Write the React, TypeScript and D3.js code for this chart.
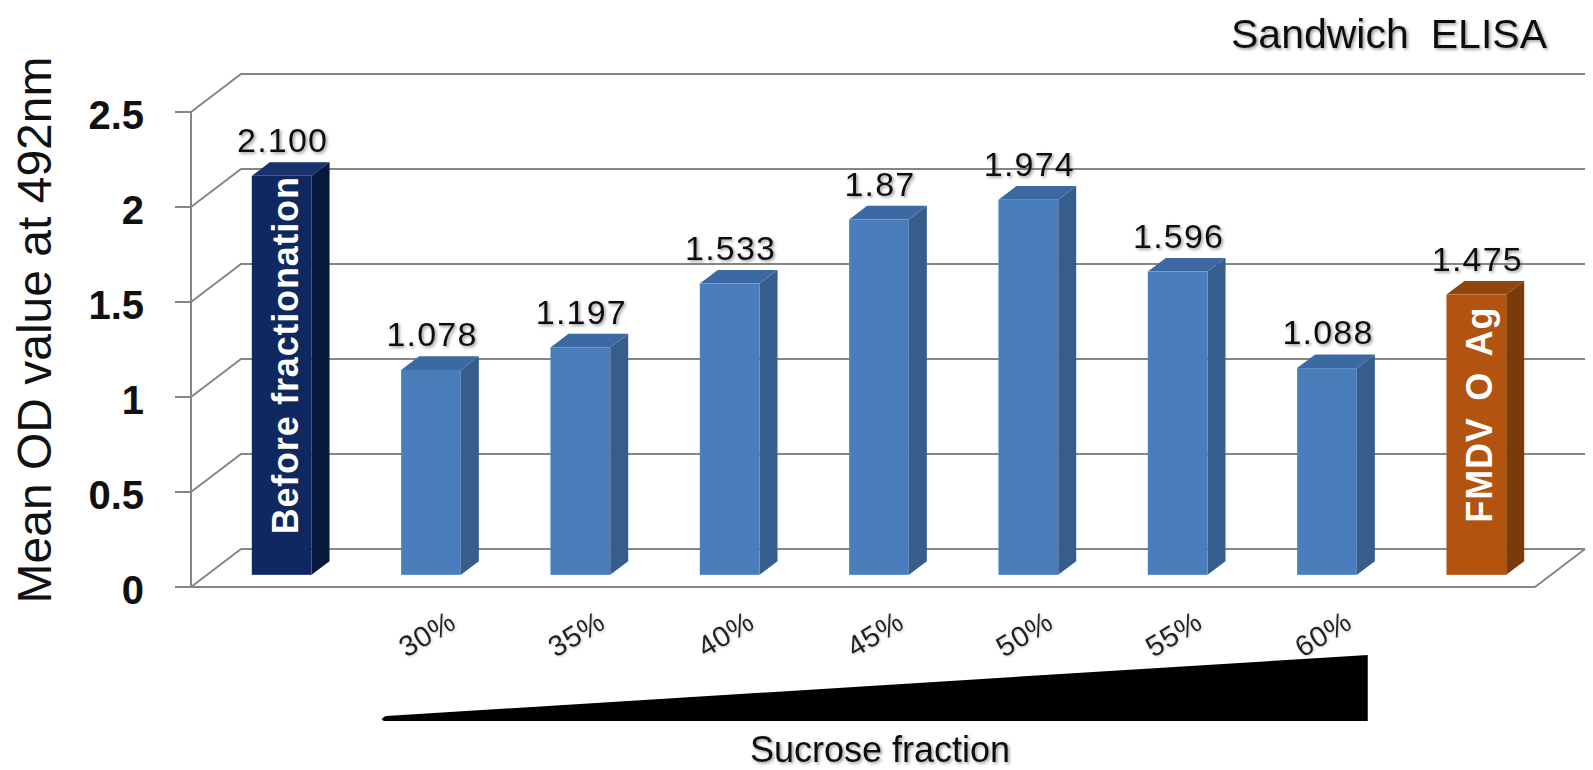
import React from "react";
import * as d3 from "d3";

// Column chart (3-D look) of sandwich ELISA OD readings across sucrose fractions
const categories = ["Before fractionation", "30%", "35%", "40%", "45%", "50%", "55%", "60%", "FMDV O Ag"];
const values = [2.1, 1.078, 1.197, 1.533, 1.87, 1.974, 1.596, 1.088, 1.475];
const valueLabels = ["2.100", "1.078", "1.197", "1.533", "1.87", "1.974", "1.596", "1.088", "1.475"];
const barKinds = ["before", "fraction", "fraction", "fraction", "fraction", "fraction", "fraction", "fraction", "control"];
const yTicks = [0, 0.5, 1, 1.5, 2, 2.5];
const yTickLabels = ["0", "0.5", "1", "1.5", "2", "2.5"];
const fractionLabels = ["30%", "35%", "40%", "45%", "50%", "55%", "60%"];

const W = 1593;
const H = 770;

const palette: Record<string, { front: string; side: string; top: string }> = {
  before: { front: "#0f285f", side: "#08183d", top: "#17326c" },
  fraction: { front: "#4a7ebb", side: "#375d8c", top: "#3d69a3" },
  control: { front: "#b2530f", side: "#7a3a0a", top: "#91440c" },
};

const depth = { dx: 50, dy: 38 };
const barT0 = 0.32;
const barT1 = 0.68;
const plot = { left: 191, right: 1535, bottom: 587, top: 112 };
const labelFont = "'Liberation Sans', Arial, sans-serif";

export default function App() {
  const y = d3.scaleLinear().domain([0, 2.5]).range([plot.bottom, plot.top]);
  const x = d3.scaleBand<string>().domain(categories).range([plot.left, plot.right]);
  const bw = x.bandwidth();
  const barW = bw * 0.4;
  const sdx = depth.dx * (barT1 - barT0);
  const sdy = depth.dy * (barT1 - barT0);
  const backRight = plot.right + depth.dx;

  const bars = categories.map((c, i) => {
    const cx = (x(c) as number) + bw / 2 + depth.dx * barT0;
    const x0 = cx - barW / 2;
    const yBase = y(0) - depth.dy * barT0;
    const yTop = y(values[i]) - depth.dy * barT0;
    return { c, i, cx, x0, yBase, yTop, kind: barKinds[i] };
  });

  const pts = (p: number[][]) => p.map((q) => q.join(",")).join(" ");

  // sucrose gradient wedge under the fraction labels
  const wedgeLeft = (x("30%") as number) + bw * 0.28;
  const wedgeRight = (x("60%") as number) + bw * 0.88;
  const wedgeBottom = 721;
  const wedgeTop = 655;
  const wedgePath = d3.path();
  wedgePath.moveTo(wedgeLeft + 2, wedgeBottom);
  wedgePath.quadraticCurveTo(wedgeLeft - 3, wedgeBottom - 2, wedgeLeft + 4, wedgeBottom - 5);
  wedgePath.lineTo(wedgeRight, wedgeTop);
  wedgePath.lineTo(wedgeRight, wedgeBottom);
  wedgePath.closePath();

  return (
    <svg
      width={W}
      height={H}
      style={{ position: "absolute", left: 0, top: 0, background: "#ffffff" }}
    >
      <defs>
        <filter id="txtShadow" x="-20%" y="-40%" width="140%" height="180%">
          <feDropShadow dx="1.6" dy="1.6" stdDeviation="1.4" floodColor="#555" floodOpacity="0.6" />
        </filter>
        <filter id="softShadow" x="-20%" y="-40%" width="140%" height="180%">
          <feDropShadow dx="1" dy="1" stdDeviation="1.2" floodColor="#888" floodOpacity="0.45" />
        </filter>
      </defs>

      {/* side wall diagonals and back-wall gridlines */}
      <g stroke="#868686" strokeWidth={2} fill="none">
        {yTicks.map((t) => (
          <polyline
            key={"g" + t}
            points={pts([
              [plot.left, y(t)],
              [plot.left + depth.dx, y(t) - depth.dy],
              [backRight, y(t) - depth.dy],
            ])}
          />
        ))}
        {/* floor front edge and right edge */}
        <polyline
          points={pts([
            [plot.left - 16, y(0)],
            [plot.right, y(0)],
            [backRight, y(0) - depth.dy],
          ])}
        />
        {/* value axis */}
        <line x1={plot.left} x2={plot.left} y1={y(2.5)} y2={y(0)} />
        {yTicks.map((t) => (
          <line key={"t" + t} x1={plot.left - 16} x2={plot.left} y1={y(t)} y2={y(t)} />
        ))}
      </g>

      {/* y tick labels */}
      <g fontFamily={labelFont} fontWeight="bold" fontSize={40} fill="#111" textAnchor="end">
        {yTicks.map((t, i) => (
          <text key={"yl" + t} x={144} y={y(t) + 3} dominantBaseline="central">
            {yTickLabels[i]}
          </text>
        ))}
      </g>

      {/* y axis title */}
      <text
        transform={`translate(51, 330) rotate(-90)`}
        textAnchor="middle"
        fontFamily={labelFont}
        fontSize={48}
        fill="#111"
      >
        Mean OD value at 492nm
      </text>

      {/* bars */}
      {bars.map((b) => {
        const col = palette[b.kind];
        return (
          <g key={b.c}>
            <polygon
              fill={col.side}
              points={pts([
                [b.x0 + barW, b.yTop],
                [b.x0 + barW + sdx, b.yTop - sdy],
                [b.x0 + barW + sdx, b.yBase - sdy],
                [b.x0 + barW, b.yBase],
              ])}
            />
            <polygon
              fill={col.top}
              points={pts([
                [b.x0, b.yTop],
                [b.x0 + barW, b.yTop],
                [b.x0 + barW + sdx, b.yTop - sdy],
                [b.x0 + sdx, b.yTop - sdy],
              ])}
            />
            <rect x={b.x0} y={b.yTop} width={barW} height={b.yBase - b.yTop} fill={col.front} />
          </g>
        );
      })}

      {/* labels written inside the two reference bars */}
      <g
        fontFamily={labelFont}
        fontWeight="bold"
        fontSize={36}
        fill="#ffffff"
        textAnchor="middle"
        letterSpacing={0.8}
      >
        {bars
          .filter((b) => b.kind !== "fraction")
          .map((b) => (
            <text
              key={"in" + b.c}
              wordSpacing={b.kind === "control" ? 6 : 0}
              transform={`translate(${b.cx + 16}, ${(b.yTop + b.yBase) / 2 - 20}) rotate(-90)`}
            >
              {b.c}
            </text>
          ))}
      </g>

      {/* value labels */}
      <g
        fontFamily={labelFont}
        fontSize={34}
        fill="#111"
        textAnchor="middle"
        letterSpacing={1.2}
        filter="url(#txtShadow)"
      >
        {bars.map((b) => (
          <text key={"v" + b.c} x={b.cx + 1} y={b.yTop - sdy - 10}>
            {valueLabels[b.i]}
          </text>
        ))}
      </g>

      {/* sucrose fraction labels */}
      <g
        fontFamily={labelFont}
        fontSize={29}
        fill="#222"
        textAnchor="middle"
        letterSpacing={0.6}
        filter="url(#softShadow)"
      >
        {bars
          .filter((b) => fractionLabels.includes(b.c))
          .map((b) => (
            <text
              key={"f" + b.c}
              transform={`translate(${b.cx - 4}, 634) rotate(-31)`}
              dominantBaseline="central"
            >
              {b.c}
            </text>
          ))}
      </g>

      <path d={wedgePath.toString()} fill="#000" />

      <text
        x={880}
        y={762}
        textAnchor="middle"
        fontFamily={labelFont}
        fontSize={36}
        fill="#111"
        filter="url(#txtShadow)"
      >
        Sucrose fraction
      </text>

      <text
        x={1547}
        y={48}
        textAnchor="end"
        fontFamily={labelFont}
        fontSize={41}
        fill="#111"
        filter="url(#txtShadow)"
      >
        Sandwich
        <tspan dx={22}>ELISA</tspan>
      </text>
    </svg>
  );
}
